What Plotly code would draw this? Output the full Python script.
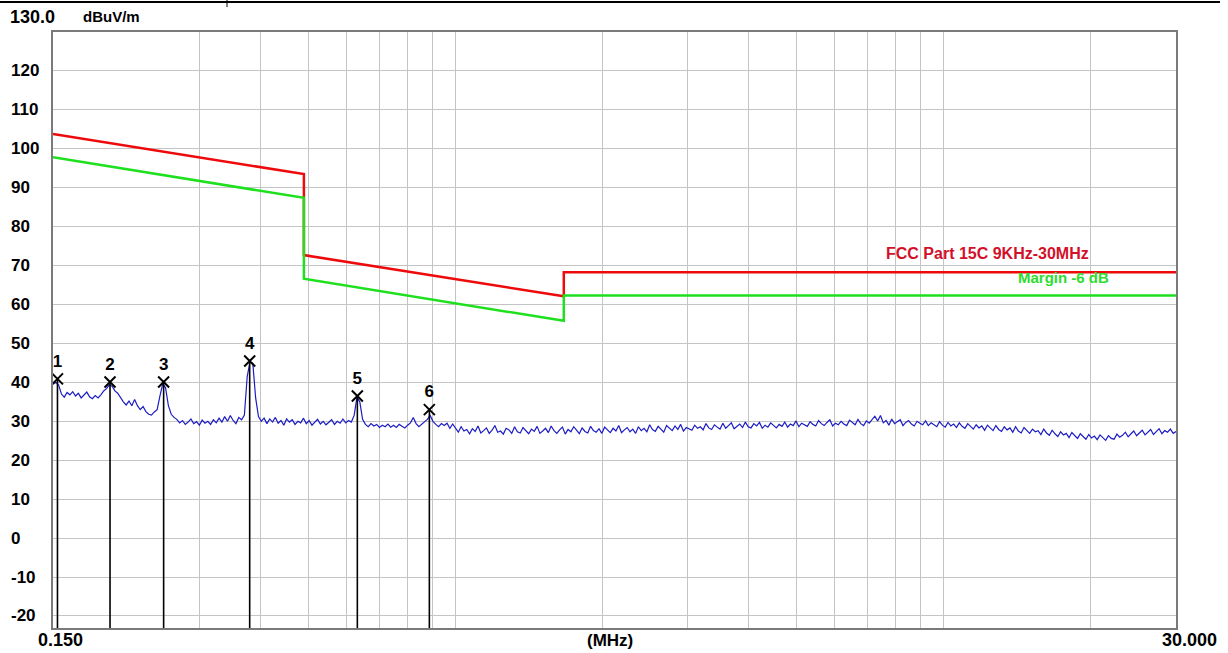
import numpy as np
import plotly.graph_objects as go

# ---- data ----
F_START, F_STOP, N_PTS = 0.15, 30.0, 400
scan_level = [
    39.5, 40.0, 39.3, 37.0, 36.2, 37.4, 36.8, 37.6, 36.5, 37.2,
    36.0, 36.9, 37.5, 36.3, 35.8, 36.6, 36.0, 36.8, 37.8, 38.4,
    39.3, 39.0, 37.8, 37.2, 36.0, 35.0, 34.2, 35.2, 34.0, 35.6,
    34.0, 33.0, 33.8, 32.5, 31.8, 31.6, 32.4, 33.0, 36.5, 39.6,
    38.6, 34.0, 31.8, 31.0, 30.5, 29.6, 30.2, 29.2, 29.8, 30.6,
    29.4, 29.9, 29.0, 30.3, 29.5, 30.0, 29.2, 30.4, 29.6, 30.8,
    29.8, 31.2, 30.0, 31.5, 30.2, 29.4, 31.0, 30.4, 31.6, 41.5,
    45.3, 44.8, 36.0, 31.2, 30.0, 30.8, 29.4, 30.6, 29.8, 31.0,
    29.5, 30.2, 29.0, 30.6, 29.8, 30.4, 29.2, 30.0, 29.6, 30.8,
    29.4, 30.2, 29.0, 29.8, 30.5, 29.3, 30.0, 29.1, 29.8, 30.4,
    29.2, 30.0, 29.5, 30.6, 29.6, 30.2, 29.8, 31.5, 36.2, 35.0,
    30.5, 29.2, 28.6, 29.4, 28.8, 29.2, 28.4, 29.0, 28.6, 29.3,
    28.5, 29.0, 28.4, 29.2, 28.7, 28.3, 29.0, 29.6, 31.0, 29.4,
    28.6, 29.2, 29.8, 30.5, 31.5, 30.0, 29.2, 28.6, 29.4, 28.9,
    29.5, 28.2, 29.3, 28.4, 27.2, 28.6, 27.5, 27.9, 26.8, 28.1,
    27.4, 28.8, 27.0, 27.6, 28.3, 26.9, 27.7, 28.9, 27.2, 27.5,
    26.7, 28.2, 27.8, 26.9, 28.6, 27.3, 27.0, 28.4, 27.6, 26.8,
    28.0, 27.4, 28.7, 26.9, 27.5, 28.2, 27.1, 28.8, 27.6, 26.9,
    27.8, 28.5, 26.7, 27.9, 27.3, 28.6, 27.7, 26.8, 28.3, 27.4,
    27.0, 28.7, 27.6, 27.2, 28.1, 26.9, 28.5, 27.8, 27.1, 28.2,
    27.5, 28.9, 27.1, 27.8, 28.4, 27.3, 28.0, 26.9, 28.6, 27.6,
    28.2, 27.3, 29.1, 27.9, 27.4, 28.7, 28.0, 27.2, 28.9, 28.3,
    27.6, 28.8, 27.9, 29.2, 27.5, 28.4, 28.1, 27.7, 29.0, 28.2,
    28.6, 27.8, 29.4, 28.3, 27.9, 29.1, 28.5, 28.0, 29.5, 28.2,
    28.9, 29.6, 28.1, 28.7, 29.3, 28.4, 29.8, 28.6, 28.3, 29.4,
    28.8, 29.7, 28.2, 29.0, 28.5, 29.6, 28.9, 28.3, 29.2, 28.7,
    29.8, 28.5, 29.3, 28.9, 30.1, 28.6, 29.5, 29.0, 28.7, 29.9,
    29.2, 28.8, 30.2, 29.4, 28.9, 29.7, 30.4, 28.8, 29.5, 29.1,
    30.0, 29.3, 28.9, 30.3, 29.6, 29.1, 30.5, 29.4, 28.9, 30.1,
    29.5, 30.4, 31.3, 30.1, 31.5, 29.6, 30.2, 29.0, 30.6, 29.4,
    29.9, 30.4, 28.9, 29.7, 30.2, 29.3, 28.8, 30.0, 29.5, 29.1,
    30.1, 28.9, 29.6, 29.2, 28.6, 29.9, 29.0, 28.5, 29.7, 28.8,
    29.3, 28.4, 29.6, 28.7, 28.2, 29.4, 28.6, 28.0, 29.1, 28.3,
    28.8, 27.7, 29.0, 28.2, 27.6, 28.9, 27.9, 27.4, 28.6, 27.8,
    28.3, 27.2, 28.6, 27.5, 27.0, 28.4, 27.6, 26.9, 28.0, 27.3,
    27.6, 26.6, 28.0, 27.0, 26.4, 27.7, 26.8, 26.1, 27.3, 26.5,
    26.9, 25.8, 27.1, 26.3, 25.6, 26.8, 26.0, 25.4, 26.6, 25.7,
    26.2, 25.3, 26.5, 25.8, 25.1, 26.3, 25.6, 25.4, 26.7, 25.9,
    26.4, 27.2, 26.0, 26.8, 27.5, 26.3, 27.0, 27.7, 26.5, 27.3,
    27.9, 26.6, 27.4, 28.1, 26.8, 27.6, 27.2, 28.0, 26.9, 27.4,
]
scan_freq = np.geomspace(F_START, F_STOP, N_PTS)

limit_freq = [0.15, 0.49, 0.49, 1.67, 1.67, 30.0]
limit_fcc = [103.8, 93.5, 72.7, 62.1, 68.3, 68.3]
limit_margin = [97.8, 87.4, 66.6, 55.8, 62.3, 62.3]

marker_no = ["1", "2", "3", "4", "5", "6"]
marker_freq = [0.1532, 0.1963, 0.2528, 0.3794, 0.6305, 0.8856]
marker_level = [40.9, 40.1, 40.1, 45.5, 36.5, 33.0]

y_ticks = [120, 110, 100, 90, 80, 70, 60, 50, 40, 30, 20, 10, 0, -10, -20]
x_grid = [0.3, 0.4, 0.5, 0.6, 0.7, 0.8, 0.9, 1, 2, 3, 4, 5, 6, 7, 8, 9, 10, 20]
Y_MIN, Y_MAX = -23.1, 130.0

# ---- figure ----
W, H = 1228, 653
L, R, T, B = 53, 52, 32, 25
PW, PH = W - L - R, H - T - B


def px(xp):
    return (xp - L) / PW


def py(yp):
    return (H - B - yp) / PH


FONT = "Liberation Sans, Arial, sans-serif"
fig = go.Figure()

fig.add_trace(go.Scatter(x=scan_freq, y=scan_level, mode="lines",
                         line=dict(color="#1c1cc4", width=1.2), hoverinfo="skip"))
fig.add_trace(go.Scatter(x=limit_freq, y=limit_fcc, mode="lines",
                         line=dict(color="#ee0a0a", width=2.5)))
fig.add_trace(go.Scatter(x=limit_freq, y=limit_margin, mode="lines",
                         line=dict(color="#1ee01e", width=2.5)))

# marker drop lines
vx, vy = [], []
for f, lv in zip(marker_freq, marker_level):
    vx += [f, f, None]
    vy += [lv, Y_MIN, None]
fig.add_trace(go.Scatter(x=vx, y=vy, mode="lines",
                         line=dict(color="black", width=1.6)))
fig.add_trace(go.Scatter(x=marker_freq, y=marker_level, mode="markers+text",
                         text=[f"<b>{n}</b>" for n in marker_no],
                         textposition="top center",
                         textfont=dict(family=FONT, size=17, color="black"),
                         marker=dict(symbol="x-thin-open", size=11, color="black",
                                     line=dict(color="black", width=2))))

annotations = []
for v in y_ticks:
    annotations.append(dict(x=px(9), y=v, xref="paper", yref="y", text=f"<b>{v}</b>",
                            showarrow=False, xanchor="left", yanchor="middle",
                            font=dict(family=FONT, size=17, color="black")))
annotations += [
    dict(x=px(8), y=py(17), xref="paper", yref="paper", text="<b>130.0</b>",
         showarrow=False, xanchor="left", yanchor="middle",
         font=dict(family=FONT, size=18, color="black")),
    dict(x=px(81), y=py(16), xref="paper", yref="paper", text="<b>dBuV/m</b>",
         showarrow=False, xanchor="left", yanchor="middle",
         font=dict(family=FONT, size=15, color="black")),
    dict(x=px(36), y=py(640), xref="paper", yref="paper", text="<b>0.150</b>",
         showarrow=False, xanchor="left", yanchor="middle",
         font=dict(family=FONT, size=18, color="black")),
    dict(x=px(610), y=py(640), xref="paper", yref="paper", text="<b>(MHz)</b>",
         showarrow=False, xanchor="center", yanchor="middle",
         font=dict(family=FONT, size=17, color="black")),
    dict(x=px(1219), y=py(640), xref="paper", yref="paper", text="<b>30.000</b>",
         showarrow=False, xanchor="right", yanchor="middle",
         font=dict(family=FONT, size=18, color="black")),
    dict(x=px(884), y=py(253), xref="paper", yref="paper",
         text="<b>FCC Part 15C 9KHz-30MHz</b>", showarrow=False,
         xanchor="left", yanchor="middle",
         font=dict(family=FONT, size=16, color="#d3102a")),
    dict(x=px(1016), y=py(277), xref="paper", yref="paper",
         text="<b>Margin -6 dB</b>", showarrow=False,
         xanchor="left", yanchor="middle",
         font=dict(family=FONT, size=15, color="#2edc2e")),
]

shapes = [
    dict(type="line", xref="paper", yref="paper", x0=px(0), x1=px(1220),
         y0=py(2), y1=py(2), line=dict(color="black", width=2)),
    dict(type="line", xref="paper", yref="paper", x0=px(227), x1=px(227),
         y0=py(0), y1=py(7), line=dict(color="black", width=1)),
]

fig.update_layout(
    width=W, height=H,
    margin=dict(l=L, r=R, t=T, b=B, pad=0),
    paper_bgcolor="white", plot_bgcolor="white",
    showlegend=False,
    annotations=annotations, shapes=shapes,
    xaxis=dict(type="log", range=[np.log10(F_START), np.log10(F_STOP)],
               tickvals=x_grid, showticklabels=False, ticks="",
               showgrid=True, gridcolor="#c4c4c4", gridwidth=1, zeroline=False,
               showline=True, linecolor="#7a7a7a", linewidth=2, mirror=True),
    yaxis=dict(range=[Y_MIN, Y_MAX], tickvals=y_ticks, showticklabels=False,
               ticks="", showgrid=True, gridcolor="#c4c4c4", gridwidth=1,
               zeroline=False, showline=True, linecolor="#7a7a7a",
               linewidth=2, mirror=True),
)

fig.write_html("out.html", config={"displayModeBar": False},
               post_script="document.body.style.margin='0';"
                           "document.body.style.overflow='hidden';")
